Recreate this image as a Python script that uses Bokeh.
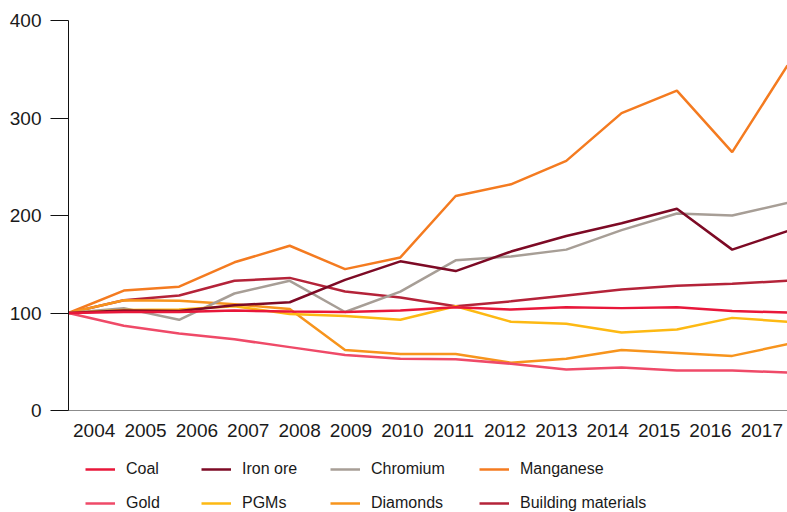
from bokeh.plotting import figure
from bokeh.layouts import column
from bokeh.models import Range1d, FixedTicker, CustomJSTickFormatter, Legend, LegendItem
from bokeh.embed import file_html
from bokeh.resources import INLINE

years = list(range(2004, 2018))
coal = [100, 101, 101, 102.5, 101.5, 101, 102.5, 106, 103.5, 106, 105, 106, 102, 100.5]
gold = [100, 87, 79, 73, 65, 57, 53, 52.5, 48, 42, 44, 41, 41, 39]
iron_ore = [100, 102.5, 102, 108, 111, 134, 153, 143, 163, 179, 192, 207, 165, 184]
pgms = [100, 103, 103.5, 107, 99, 97, 93, 107, 91, 89, 80, 83, 95, 91]
chromium = [100, 105, 93, 120, 133, 101, 122, 154, 158, 165, 185, 202, 200, 213]
diamonds = [100, 113, 112.5, 109, 104, 62, 58, 58, 49, 53, 62, 59, 56, 68]
manganese = [100, 123, 127, 152, 169, 145, 157, 220, 232, 256, 305, 328, 265, 354]
building = [100, 113, 118, 133, 136, 122, 116, 107, 112, 118, 124, 128, 130, 133]
y_ticks = [0, 100, 200, 300, 400]

series = [
    ("Building materials", building, "#B42339"),
    ("Manganese", manganese, "#F47B20"),
    ("Diamonds", diamonds, "#F7941D"),
    ("Chromium", chromium, "#A79E96"),
    ("PGMs", pgms, "#FDB913"),
    ("Iron ore", iron_ore, "#7D0A25"),
    ("Gold", gold, "#EF4A68"),
    ("Coal", coal, "#E8173A"),
]

FONT = "Liberation Sans"
TXT = "#1a1a1a"
W = 787
LEFT = 68

p = figure(width=W, height=445, output_backend="svg", toolbar_location=None,
           x_range=Range1d(years[0], years[-1]), y_range=Range1d(0, 400),
           min_border_left=LEFT, min_border_right=0, min_border_top=20, min_border_bottom=35)
p.outline_line_color = None
p.xgrid.visible = False
p.ygrid.visible = False

for name, vals, col in series:
    p.line(years, vals, line_color=col, line_width=2.5)

# y axis
p.yaxis.ticker = FixedTicker(ticks=y_ticks)
p.yaxis.axis_line_color = "#111111"
p.yaxis.major_tick_line_color = "#111111"
p.yaxis.major_tick_out = 18
p.yaxis.major_tick_in = 0
p.yaxis.minor_tick_line_color = None
p.yaxis.major_label_standoff = 9
p.yaxis.major_label_text_font = FONT
p.yaxis.major_label_text_font_size = "19px"
p.yaxis.major_label_text_color = TXT

# x axis: labels at category centres
n = len(years)
span = years[-1] - years[0]
xt = [years[0] + (i + 0.5) * span / n for i in range(n)]
p.xaxis.ticker = FixedTicker(ticks=xt)
p.xaxis.formatter = CustomJSTickFormatter(
    args=dict(y0=years[0], span=span, n=n),
    code="return String(y0 + Math.round((tick - y0) * n / span - 0.5));")
p.xaxis.axis_line_color = "#8c8c8c"
p.xaxis.major_tick_line_color = None
p.xaxis.minor_tick_line_color = None
p.xaxis.major_label_standoff = 7
p.xaxis.major_label_text_font = FONT
p.xaxis.major_label_text_font_size = "19px"
p.xaxis.major_label_text_color = TXT

# legend figure below
pl = figure(width=W, height=67, output_backend="svg", toolbar_location=None,
            x_range=Range1d(0, 1), y_range=Range1d(0, 1),
            x_axis_type=None, y_axis_type=None,
            min_border_left=LEFT, min_border_right=0, min_border_top=0, min_border_bottom=0)
pl.outline_line_color = None
pl.xgrid.visible = False
pl.ygrid.visible = False

leg_r = {}
for name, vals, col in series:
    leg_r[name] = pl.line(years, vals, line_color=col, line_width=2.5, visible=False)

cols = [("Coal", "Gold", 85), ("Iron ore", "PGMs", 201),
        ("Chromium", "Diamonds", 330), ("Manganese", "Building materials", 479)]
for a, b, x in cols:
    leg = Legend(items=[LegendItem(label=a, renderers=[leg_r[a]]),
                        LegendItem(label=b, renderers=[leg_r[b]])],
                 location=(x - LEFT, 0), orientation="vertical",
                 padding=0, margin=0, spacing=16,
                 glyph_width=30, glyph_height=16, label_height=16,
                 label_standoff=11,
                 label_text_font=FONT, label_text_font_size="16px",
                 label_text_color=TXT,
                 border_line_color=None, background_fill_alpha=0)
    pl.add_layout(leg, "center")

layout = column(p, pl, spacing=0)
open("out.html", "w").write(file_html(layout, INLINE))
